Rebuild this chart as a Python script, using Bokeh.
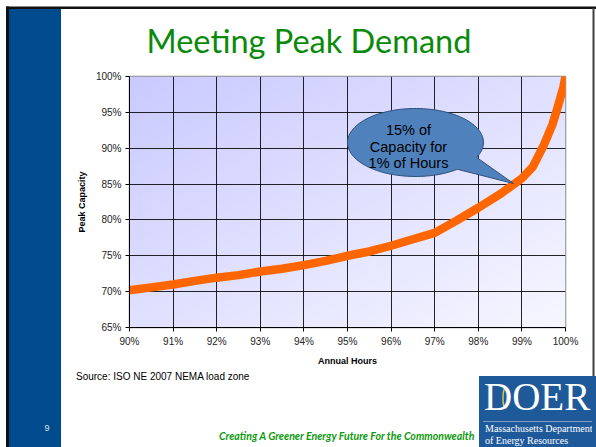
import numpy as np
from bokeh.plotting import figure
from bokeh.models import Range1d, FixedTicker, PrintfTickFormatter, Label, Div, Row, Column
from bokeh.embed import file_html
from bokeh.resources import INLINE

# ---------------- data ----------------
hours = [90.0, 90.5, 91.0, 91.5, 92.0, 92.5, 93.0, 93.5, 94.0, 94.5, 95.0, 95.5,
         96.0, 96.5, 97.0, 97.5, 98.0, 98.5, 99.0, 99.25, 99.5, 99.7, 99.8, 99.9,
         99.95, 100.0]
capacity = [70.2, 70.6, 71.0, 71.5, 71.95, 72.3, 72.8, 73.2, 73.7, 74.3, 75.0, 75.6,
            76.4, 77.3, 78.2, 79.9, 81.7, 83.6, 85.8, 87.4, 90.4, 93.3, 95.3, 97.4,
            98.5, 100.0]
x_ticks = [90, 91, 92, 93, 94, 95, 96, 97, 98, 99, 100]
y_ticks = [65, 70, 75, 80, 85, 90, 95, 100]

title_text = "Meeting Peak Demand"
callout_lines = ["15% of", "Capacity for", "1% of Hours"]
source_text = "Source: ISO NE 2007 NEMA load zone"
footer_text = "Creating A Greener Energy Future For the Commonwealth"
page_number = "9"
logo_text = "DOER"
logo_lines = ["Massachusetts Department", "of Energy Resources"]

# ---------------- page geometry (pixels) ----------------
W, H = 596, 447
LEFT_W = 61           # blue side bar column
RIGHT_W = 4           # right frame strip
MID_W = W - LEFT_W - RIGHT_W
TOP_H, CHART_H = 70, 300
BOT_H = H - TOP_H - CHART_H

# chart frame in page pixels
FX0, FX1, FY0, FY1 = 129, 565, 76, 327
X0, X1, Y0, Y1 = 90.0, 100.0, 65.0, 100.0

def dx(px):
    return X0 + (px - FX0) * (X1 - X0) / (FX1 - FX0)

def dy(py):
    return Y1 - (py - FY0) * (Y1 - Y0) / (FY1 - FY0)

def svg(w, h, body):
    return ('<svg xmlns="http://www.w3.org/2000/svg" width="%d" height="%d" '
            'style="display:block">%s</svg>' % (w, h, body))

def r(x, y, w, h, c):
    return '<rect x="%s" y="%s" width="%s" height="%s" fill="%s"/>' % (x, y, w, h, c)

def tx(x, y, s, size, color, font="Liberation Sans", anchor="start",
       weight="normal", style="normal"):
    return ('<text x="%s" y="%s" text-anchor="%s" style="font-family:\'%s\';'
            'font-size:%spx;fill:%s;font-weight:%s;font-style:%s">%s</text>'
            % (x, y, anchor, font, size, color, weight, style, s))

# left column: frame lines + blue bar + page number
left_body = (r(6, 6.5, LEFT_W - 6, 2.5, "#111111") + r(6, 6.5, 3, H, "#111111")
             + r(9, 9, LEFT_W - 9, H, "#004B8D")
             + tx(47, 431, page_number, 9, "#DDE3EE", anchor="middle"))
left_div = Div(text=svg(LEFT_W, H, left_body), width=LEFT_W, height=H, margin=0)

# top: frame line + title
ox = LEFT_W
top_body = (r(0, 6.5, MID_W, 2.5, "#111111")
            + tx(309 - ox, 53, title_text, 32.5, "#0A8A0A", font="Lato", anchor="middle"))
top_div = Div(text=svg(MID_W, TOP_H, top_body), width=MID_W, height=TOP_H, margin=0)

# bottom: source, footer, logo
oy = TOP_H + CHART_H
bot_body = (tx(76 - ox, 380 - oy, source_text, 10, "black")
            + tx(219 - ox, 440 - oy, footer_text, 10.6, "#0E9A0E", font="Lato",
                 weight="bold", style="italic")
            + r(479 - ox, 376 - oy, MID_W, BOT_H, "#1E5A9A")
            + r(483 - ox, 421 - oy, MID_W, 1, "#7C9CC4")
            + '<ellipse cx="%s" cy="%s" rx="2.5" ry="10" fill="none" stroke="#D9C04A" '
              'stroke-width="1.5"/>' % (505.5 - ox, 398 - oy)
            + tx(484 - ox, 410 - oy, logo_text, 39, "white", font="Liberation Serif")
            + tx(485 - ox, 432 - oy, logo_lines[0], 10, "white", font="Liberation Serif")
            + tx(485 - ox, 444 - oy, logo_lines[1], 10, "white", font="Liberation Serif"))
bot_div = Div(text=svg(MID_W, BOT_H, bot_body), width=MID_W, height=BOT_H, margin=0)

# right strip: frame line + end of logo
right_body = (r(0, 6.5, RIGHT_W, 2.5, "#111111") + r(0.5, 8, 2, 376 - 8, "#404040")
              + r(0, 376, RIGHT_W, H - 376, "#1E5A9A"))
right_div = Div(text=svg(RIGHT_W, H, right_body), width=RIGHT_W, height=H, margin=0)

# ---------------- chart ----------------
p = figure(width=MID_W, height=CHART_H, output_backend="svg", toolbar_location=None,
           x_range=Range1d(X0, X1), y_range=Range1d(Y0, Y1), title=None,
           min_border_left=FX0 - LEFT_W, min_border_right=W - RIGHT_W - FX1,
           min_border_top=FY0 - TOP_H, min_border_bottom=TOP_H + CHART_H - FY1,
           margin=0)
p.border_fill_color = "white"
p.background_fill_color = "white"
p.outline_line_color = "#8c8c8c"
p.outline_line_width = 1.5

# gradient plot-area background
nx, ny = 218, 126
u = np.linspace(0, 1, nx)[None, :]
v = 1 - np.linspace(0, 1, ny)[:, None]
t = (u + v) / 2
c0 = np.array([202, 202, 255])
c1 = np.array([247, 247, 255])
img = np.zeros((ny, nx), dtype=np.uint32)
view = img.view(dtype=np.uint8).reshape((ny, nx, 4))
for k in range(3):
    view[:, :, k] = (c0[k] + (c1[k] - c0[k]) * t).astype(np.uint8)
view[:, :, 3] = 255
p.image_rgba(image=[img], x=X0, y=Y0, dw=X1 - X0, dh=Y1 - Y0, level="image")

for ax in (p.xaxis, p.yaxis):
    ax.major_label_text_font = "Liberation Sans"
    ax.major_label_text_font_size = "10px"
    ax.major_label_text_color = "#222222"
    ax.axis_label_text_font = "Liberation Sans"
    ax.axis_label_text_font_size = "9px"
    ax.axis_label_text_font_style = "bold"
    ax.axis_label_text_color = "black"
    ax.axis_line_color = "black"
    ax.major_tick_line_color = "black"
    ax.major_tick_out = 4
    ax.major_tick_in = 0
    ax.minor_tick_out = 0
    ax.minor_tick_in = 0
    ax.major_label_standoff = 4
    ax.formatter = PrintfTickFormatter(format="%d%%")
p.xaxis.ticker = FixedTicker(ticks=x_ticks)
p.yaxis.ticker = FixedTicker(ticks=y_ticks)
p.xaxis.axis_label = "Annual Hours"
p.yaxis.axis_label = "Peak Capacity"
p.xaxis.axis_label_standoff = 6
p.yaxis.axis_label_standoff = 6

p.xgrid.ticker = FixedTicker(ticks=x_ticks)
p.ygrid.ticker = FixedTicker(ticks=y_ticks)
for g in (p.xgrid, p.ygrid):
    g.grid_line_color = "black"
    g.grid_line_alpha = 0.85
    g.grid_line_width = 1

p.line(hours, capacity, line_width=8.5, color="#FF6600",
       line_cap="round", line_join="round")

# callout (ellipse with pointer), page geometry
cx, cy, rx, ry = 415.0, 142.0, 68.0, 34.0
tip = (513.0, 183.0)
ang = np.linspace(np.deg2rad(52), np.deg2rad(360 + 26), 120)
pxs = [tip[0]] + list(cx + rx * np.cos(ang)) + [tip[0]]
pys = [tip[1]] + list(cy + ry * np.sin(ang)) + [tip[1]]
p.patch([dx(a) for a in pxs], [dy(b) for b in pys], fill_color="#4F81BD",
        line_color="#2F4F7A", line_width=1)

for i, s in enumerate(callout_lines):
    p.add_layout(Label(x=dx(408), y=dy(129.5 + 16.5 * i), text=s,
                       text_align="center", text_baseline="alphabetic",
                       text_font="Liberation Sans", text_font_size="14.5px",
                       text_color="black"))

middle = Column(children=[top_div, p, bot_div], spacing=0, margin=0)
layout = Row(children=[left_div, middle, right_div], spacing=0, margin=0)
open("out.html", "w").write(file_html(layout, INLINE))
